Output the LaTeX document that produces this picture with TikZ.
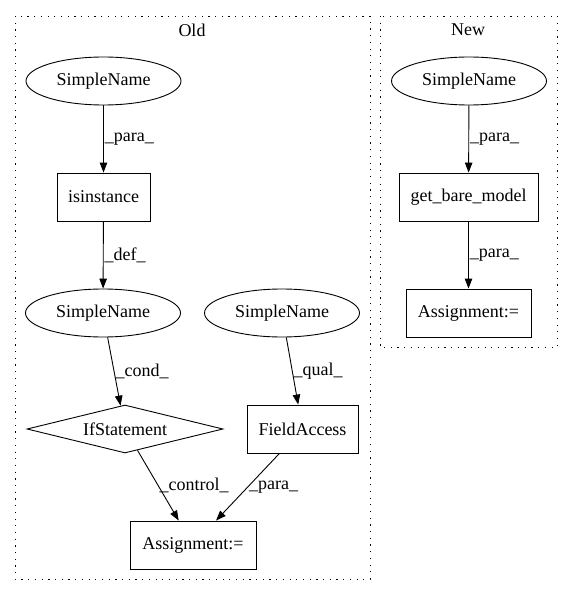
\documentclass[tikz,border=0pt]{standalone}
\usepackage{fontspec}
\setmainfont{Liberation Serif}
\usepackage{tikz}
\usetikzlibrary{shapes,arrows.meta,positioning}

\begin{document}
\begin{tikzpicture}[x=1pt,y=-1pt,
  every node/.style={font=\fontsize{18pt}{20pt}\selectfont},
  sname/.style={draw,ellipse,line width=0.9pt,minimum width=155pt,minimum height=48pt,inner sep=0pt},
  stmt/.style={draw,rectangle,line width=0.9pt,minimum height=48pt,inner sep=0pt},
  cnd/.style={draw,diamond,aspect=4,line width=0.9pt,minimum width=196pt,minimum height=48pt,inner sep=0pt},
  cluster/.style={line width=0.9pt,dash pattern=on 1.2pt off 5.5pt},
  lbl/.style={midway,anchor=west,inner sep=1pt},
  edge/.style={line width=0.9pt,-{Triangle[length=10pt,width=7.5pt]}}]
\useasboundingbox (0,0) rectangle (573,596);
% clusters
\draw[cluster] (15,16) rectangle (370,579);
\draw[cluster] (380,16) rectangle (557,347);
\node (oldtitle) at (192,30) {Old};
\node (newtitle) at (468,30) {New};
% old
\node[sname] (oldsna) at (103.5,81) {SimpleName};
\node[stmt,minimum width=93pt] (isinst) at (103.5,197) {isinstance};
\node[sname] (oldsnb) at (103,313) {SimpleName};
\node[sname] (oldsnc) at (282,313) {SimpleName};
\node[cnd] (ifst) at (125,429) {IfStatement};
\node[stmt,minimum width=111pt] (fieldacc) at (302.5,429) {FieldAccess};
\node[stmt,minimum width=126pt] (oldassign) at (193,545) {Assignment:=};
% new
\node[sname] (newsn) at (469,81) {SimpleName};
\node[stmt,minimum width=139pt] (getbare) at (468.5,197) {get\_bare\_model};
\node[stmt,minimum width=125pt] (newassign) at (468.5,313) {Assignment:=};
% edges
\draw[edge] (oldsna) -- (isinst) node[lbl] {\_para\_};
\draw[edge] (isinst) -- (oldsnb) node[lbl] {\_def\_};
\draw[edge] (oldsnb) -- (ifst) node[lbl] {\_cond\_};
\draw[edge] (oldsnc) -- (fieldacc) node[lbl] {\_qual\_};
\draw[edge] (ifst) -- (oldassign) node[lbl] {\_control\_};
\draw[edge] (fieldacc) -- (oldassign) node[lbl] {\_para\_};
\draw[edge] (newsn) -- (getbare) node[lbl] {\_para\_};
\draw[edge] (getbare) -- (newassign) node[lbl] {\_para\_};
\end{tikzpicture}
\end{document}
